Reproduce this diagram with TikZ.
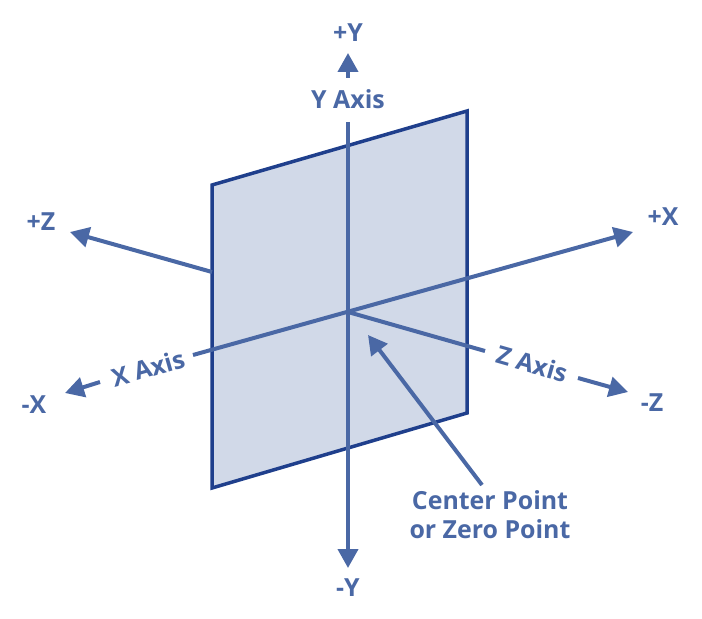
\documentclass[tikz,border=0pt]{standalone}
\usepackage{fontspec}
\setmainfont{Open Sans}
\usetikzlibrary{arrows.meta}
\newlength{\du}
\setlength{\du}{1bp}
\definecolor{axiscolor}{HTML}{4A68A5}
\definecolor{planefill}{HTML}{D1D9E8}
\definecolor{planeline}{HTML}{1F3F8C}
\tikzset{
  axisline/.style={draw=axiscolor, line width=4\du},
  axisarrow/.style={axisline, -{Triangle[length=19bp,width=20bp]}},
  axislabel/.style={text=axiscolor, font=\fontsize{25}{29}\bfseries\selectfont, inner sep=0pt},
}

\begin{document}
\begin{tikzpicture}
\pgftransformxscale{1.000000}
\pgftransformyscale{-1.000000}
\useasboundingbox (0\du,0\du) rectangle (702\du,619\du);
% plane
\coordinate (p1) at (212\du,185\du);
\coordinate (p2) at (467\du,111\du);
\coordinate (p3) at (467\du,413\du);
\coordinate (p4) at (212\du,488\du);
\coordinate (O) at (348\du,312\du);
% axis points
\coordinate (yTop) at (348\du,122\du);
\coordinate (yEnd) at (348\du,568\du);
\coordinate (yArrowBase) at (348\du,78\du);
\coordinate (yArrowTip) at (348\du,53\du);
\coordinate (zLeft) at (212\du,272\du);
\coordinate (zPlus) at (70\du,232\du);
\coordinate (zRightEnd) at (485\du,351\du);
\coordinate (zMinusStart) at (578\du,378\du);
\coordinate (zMinus) at (628\du,392\du);
\coordinate (xPlus) at (633\du,232\du);
\coordinate (xLeftEnd) at (193\du,355\du);
\coordinate (xMinusStart) at (100\du,382\du);
\coordinate (xMinus) at (65\du,393\du);
\coordinate (ptrStart) at (482\du,485\du);
\coordinate (ptrTip) at (368\du,335\du);
% labels
\node[axislabel] (lblPY) at (348\du,33\du){+Y};
\node[axislabel] (lblYAxis) at (348\du,99\du){Y Axis};
\node[axislabel] (lblNY) at (348\du,588\du){-Y};
\node[axislabel] (lblPX) at (663\du,217\du){+X};
\node[axislabel] (lblNX) at (34\du,405\du){-X};
\node[axislabel] (lblPZ) at (41\du,222\du){+Z};
\node[axislabel] (lblNZ) at (652\du,403\du){-Z};
\node[axislabel, rotate=15.8] (lblXAxis) at (148\du,368\du){X Axis};
\node[axislabel, rotate=-16] (lblZAxis) at (532\du,364\du){Z Axis};
\node[axislabel, align=center] (lblCenter) at (490\du,515\du){Center Point\\or Zero Point};
% drawing
\draw[planeline, fill=planefill, line width=3.5\du, line join=miter] (p1) -- (p2) -- (p3) -- (p4) -- cycle;
\draw[axisarrow] (zLeft) -- (zPlus);
\draw[axisarrow] (yTop) -- (yEnd);
\draw[axisarrow] (yArrowBase) -- (yArrowTip);
\draw[axisarrow] (xLeftEnd) -- (xPlus);
\draw[axisarrow] (xMinusStart) -- (xMinus);
\draw[axisline] (O) -- (zRightEnd);
\draw[axisarrow] (zMinusStart) -- (zMinus);
\draw[axisarrow] (ptrStart) -- (ptrTip);
\end{tikzpicture}
\end{document}
